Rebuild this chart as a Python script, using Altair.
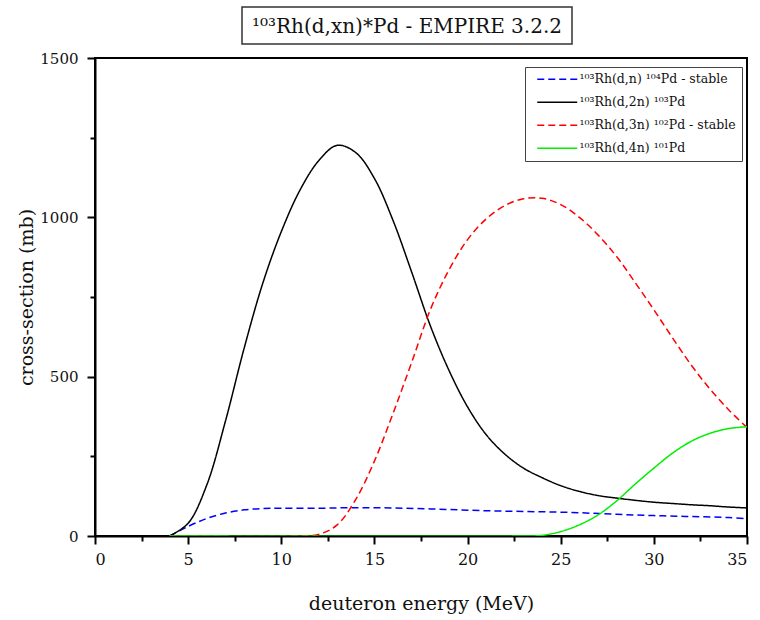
import altair as alt
import pandas as pd

# ---- data ----
series_names = [
    "¹⁰³Rh(d,n) ¹⁰⁴Pd - stable",
    "¹⁰³Rh(d,2n) ¹⁰³Pd",
    "¹⁰³Rh(d,3n) ¹⁰²Pd - stable",
    "¹⁰³Rh(d,4n) ¹⁰¹Pd",
]
series_colors = ["#0000ff", "#000000", "#ff0000", "#00ee00"]
series_dash = [[7, 4], [1, 0], [7, 4], [1, 0]]

dn_e = [4, 5, 6, 7, 8, 9, 10, 12, 14, 16, 18, 20, 22, 24, 26, 28, 30, 32, 34, 35]
dn_xs = [0, 30, 55, 72, 82, 86, 87, 87, 89, 88, 85, 81, 78, 76, 73, 68, 64, 61, 58, 54]

d2n_e = [4, 5, 6, 7, 8, 9, 10, 11, 12, 13, 14, 15, 16, 17, 18, 19, 20, 21, 22, 23,
         24, 25, 26, 27, 28, 29, 30, 31, 32, 33, 34, 35]
d2n_xs = [0, 40, 160, 360, 588, 792, 955, 1085, 1177, 1226, 1203, 1122, 990, 828, 660,
          520, 405, 318, 257, 213, 183, 158, 140, 127, 119, 112, 106, 102, 98, 95, 91, 88]

d3n_e = [4, 11, 12, 13, 14, 15, 16, 17, 18, 19, 20, 21, 22, 23, 24, 25, 26, 27, 28, 29,
         30, 31, 32, 33, 34, 35]
d3n_xs = [0, 0, 5, 35, 115, 235, 385, 545, 710, 835, 930, 995, 1037, 1058, 1060, 1040,
          1000, 945, 877, 795, 710, 622, 537, 462, 397, 340]

d4n_e = [4, 23, 24, 25, 26, 27, 28, 29, 30, 31, 32, 33, 34, 35]
d4n_xs = [0, 0, 2, 14, 35, 66, 110, 163, 213, 260, 297, 322, 337, 343]

x_major = [0, 5, 10, 15, 20, 25, 30, 35]
x_minor = [2.5, 7.5, 12.5, 17.5, 22.5, 27.5, 32.5]
y_major = [0, 500, 1000, 1500]
y_minor = [250, 750, 1250]

title_text = "¹⁰³Rh(d,xn)*Pd - EMPIRE 3.2.2"
x_title = "deuteron energy (MeV)"
y_title = "cross-section (mb)"

rows = []
for name, es, vs in zip(series_names, [dn_e, d2n_e, d3n_e, d4n_e], [dn_xs, d2n_xs, d3n_xs, d4n_xs]):
    for e, v in zip(es, vs):
        rows.append({"series": name, "energy": e, "xs": v})
df = pd.DataFrame(rows)

FONT = "DejaVu Serif"

xscale = alt.Scale(domain=[0, 35], nice=False, zero=False)
yscale = alt.Scale(domain=[0, 1500], nice=False)

legend = alt.Legend(
    title=None, orient="none", legendX=430, legendY=9,
    strokeColor="#444", fillColor="white", padding=6,
    symbolType="M0,0H8", symbolSize=100, symbolStrokeWidth=1.5,
    labelFont=FONT, labelFontSize=12.5, labelColor="#111", rowPadding=10, labelOffset=36,
    labelLimit=400, cornerRadius=0,
)

lines = alt.Chart(df).mark_line(strokeWidth=1.5, interpolate="catmull-rom", clip=True).encode(
    x=alt.X("energy:Q", scale=xscale,
            axis=alt.Axis(values=x_major, title=x_title, tickSize=8, labelPadding=7,
                          labelFontSize=16, titleY=67, titleBaseline="middle", format="d")),
    y=alt.Y("xs:Q", scale=yscale,
            axis=alt.Axis(values=y_major, title=y_title, tickSize=8, labelPadding=9,
                          labelFontSize=15, titleX=-69, titleY=239, titleAngle=-90,
                          titleAlign="center", titleBaseline="middle", format="d")),
    color=alt.Color("series:N", scale=alt.Scale(domain=series_names, range=series_colors), legend=legend),
    strokeDash=alt.StrokeDash("series:N", scale=alt.Scale(domain=series_names, range=series_dash), legend=legend),
    detail="series:N",
)

minor = alt.Chart(df).mark_point(opacity=0).encode(
    x=alt.X("energy:Q", scale=xscale,
            axis=alt.Axis(values=x_minor, orient="bottom", labels=False, domain=False,
                          tickSize=5, title=None, grid=False)),
    y=alt.Y("xs:Q", scale=yscale,
            axis=alt.Axis(values=y_minor, orient="left", labels=False, domain=False,
                          tickSize=5, title=None, grid=False)),
)

title_box = alt.Chart(alt.Data(values=[{}])).mark_rect(
    fill="white", stroke="#333", strokeWidth=1.5
).encode(x=alt.value(147), x2=alt.value(477), y=alt.value(-51), y2=alt.value(-14))

title_txt = alt.Chart(alt.Data(values=[{"t": title_text}])).mark_text(
    font=FONT, fontSize=20, color="#111", align="center", baseline="middle"
).encode(x=alt.value(312), y=alt.value(-31), text="t:N")

chart = alt.layer(lines, minor, title_box, title_txt).resolve_axis(
    x="independent", y="independent"
).properties(
    width=652, height=478,
    autosize=alt.AutoSizeParams(type="none"),
    padding={"left": 95, "top": 58, "right": 13, "bottom": 84},
).configure_view(
    stroke="black", strokeWidth=2
).configure_axis(
    labelFont=FONT, labelColor="#111",
    titleFont=FONT, titleFontSize=19, titleFontWeight="normal", titleColor="#111",
    domainColor="black", domainWidth=2, tickColor="black", tickWidth=2, grid=False,
)

chart.save("out.html", embed_options={"renderer": "svg", "actions": False})
